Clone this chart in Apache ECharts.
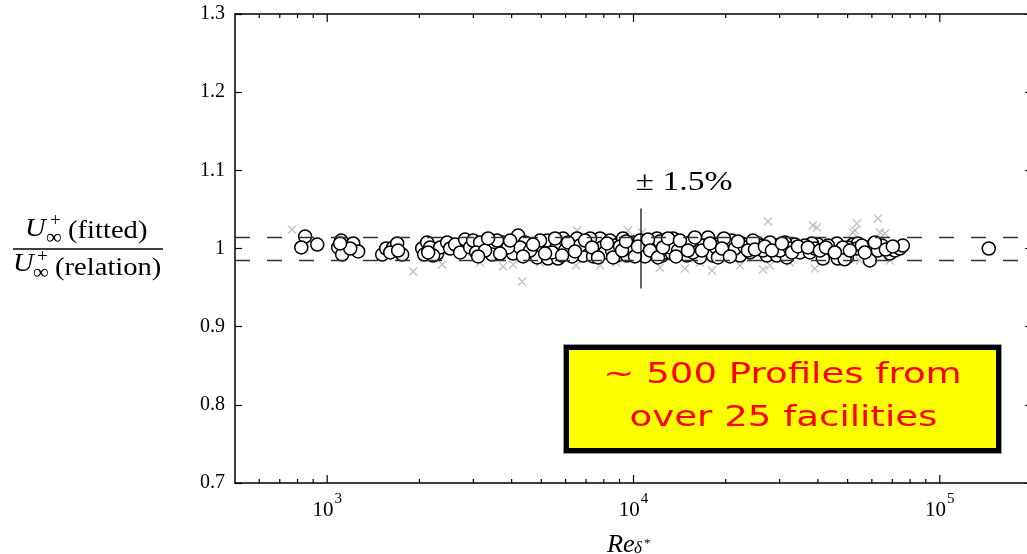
<!DOCTYPE html>
<html><head><meta charset="utf-8">
<script src="https://cdn.jsdelivr.net/npm/echarts@6/dist/echarts.min.js"></script>
<style>html,body{margin:0;padding:0;background:#fff}#c{width:1027px;height:554px}</style>
</head><body><div id="c"></div>
<script>
// ---- data ----
const profileRe = [847,823,928,1111,1086,1119,1216,1262,1189,1102,1512,1558,1642,1692,1757,1606,1704,
  2042,2120,2073,2168,2286,2338,2464,2520,2616,2716,2820,2929,2995,2217,2136,3156,3063,3480,3454,3752,
  4045,4200,4426,4264,4844,5067,5222,5262,5628,5671,5888,6206,6543,6844,7106,7487,7775,7893,8381,8704,
  8836,9242,9524,9963,10266,10740,11070,11490,11930,12390,12860,13460,12670,13360,14510,14950,16120,
  17510,16480,18170,19150,20340,20960,22590,22260,23990,25490,27270,28950,29390,31680,33650,34930,
  39990,41520,44760,46470,49730,52030,54020,25880,38220,46130,50100,53620,57790,59110,60460,64700,
  68690,71320,74060,75750,144500,48900,
  3277,3586,3895,4595,4954,5422,5977,6300,6690,7214,7378,8072,8508,9036,9741,10500,10900,11750,12200,
  13150,13970,15290,15640,16980,18590,19740,21440,23110,24550,26460,27890,30060,31210,32400,36260,
  37660,39100,43120,48260,55660,62790,66650,
  3110,3352,3668,3955,4360,4700,5143,5545,5845,6113,6442,6948,7322,7660,8195,8574,9174,9452,10110,10340,
  11150,11320,12020,12480,12960,13760,14180,15060,15870,16730,17770,18870,19450,20650,21930,23640,24920,
  26850,28310,30520,32890,34420,37100,40600,42480,45440,50860,56920,61370,70250];
const profileRatio = [1.0153,1.0013,1.0051,1.0102,1.0013,0.9923,1.0064,0.9962,1.0,1.0064,0.9923,1.0,1.0013,1.0064,0.9923,0.9949,0.9974,
  1.0,1.0077,0.9923,1.0013,0.9936,1.0013,1.0077,1.0,1.0051,0.9949,1.0115,1.0013,1.0102,0.9910,0.9949,1.0077,0.9949,1.0,0.9923,1.0077,
  0.9936,1.0166,1.0077,1.0013,0.9885,1.0013,1.0102,0.9872,1.0038,0.9872,1.0128,1.0,1.0128,0.9910,1.0038,0.9949,1.0128,1.0013,1.0102,1.0038,
  0.9910,1.0128,0.9910,1.0077,0.9949,1.0013,0.9936,1.0064,1.0128,0.9910,1.0038,1.0128,0.9949,0.9936,1.0038,0.9910,1.0013,
  1.0141,0.9885,0.9910,1.0064,0.9949,1.0102,1.0064,0.9910,0.9949,1.0064,0.9910,1.0038,0.9910,0.9885,1.0051,0.9949,
  1.0051,0.9872,1.0013,0.9872,0.9885,1.0051,1.0064,1.0038,1.0064,1.0064,1.0013,1.0,1.0013,0.9847,1.0038,1.0038,
  0.9936,0.9974,1.0,1.0038,1.0,0.9862,
  0.9974,1.0102,1.0013,0.9974,1.0102,0.9949,0.9974,0.9898,1.0038,1.0128,0.9898,0.9949,0.9974,1.0026,1.0,1.0102,0.9898,0.9974,1.009,
  1.0013,0.9974,1.0077,0.9949,1.0038,1.0013,1.0128,1.0,1.0013,1.0102,0.9974,1.0077,0.9974,1.0077,1.0,1.0038,
  0.9949,1.0,1.0038,1.0013,1.0038,0.9974,0.9987,
  0.9898,1.0128,0.9936,1.0102,0.9898,1.0051,0.9936,1.0128,0.9910,1.0077,0.9962,1.0102,1.0013,0.9885,1.0064,0.9885,0.9974,1.009,0.9898,1.0026,
  1.0115,0.9974,0.9885,1.0013,1.0128,0.9898,1.0102,0.9974,1.0141,0.9974,1.0064,0.9885,1.0,0.9898,1.009,0.9974,0.9987,
  1.0026,0.9974,1.0064,0.9949,1.0026,1.0013,0.9974,1.0013,0.9949,0.9974,0.9949,1.0077,1.0026];
const outlierRe = [768,1908,2372,3752,4045,4327,6543,6494,9594,10660,8770,12200,14720,18040,22260,26460,27470,
  27890,38510,39690,39100,53620,52030,52810,62790,63740,66190,68690,44420,54840,32400,16480,4954,3156,7775];
const outlierRatio = [1.0243,0.9706,0.9795,0.9770,0.9795,0.9578,1.0230,0.9783,1.0230,1.0205,0.9821,0.9757,0.9744,0.9719,0.9783,0.9731,1.0345,
  0.9783,1.0294,1.0269,0.9744,1.0320,1.0205,1.0230,1.0384,1.0205,1.0192,0.9847,0.9847,0.9847,0.9821,0.9821,0.9821,0.9821,0.9783];
const bandUpper = 1.015, bandLower = 0.985;
const markerRe = 10580, markerLow = 0.9488, markerHigh = 1.0512;
const xMin = 500, xMax = 200000, yMin = 0.7, yMax = 1.3;
const xMajorTicks = [1000, 10000, 100000];
const xMinorTicks = [600,700,800,900,2000,3000,4000,5000,6000,7000,8000,9000,20000,30000,40000,50000,60000,70000,80000,90000];
const yTickLabels = ['0.7','0.8','0.9','1','1.1','1.2','1.3'];

const SERIF = '"Liberation Serif", "DejaVu Serif", serif';
const chart = echarts.init(document.getElementById('c'), null, {renderer: 'canvas'});

const tickData = xMajorTicks.map(v => [v, 1, 1]).concat(xMinorTicks.map(v => [v, 1, 0]));
const axisLine = {show: true, lineStyle: {color: '#000', width: 1.5}};

function txt(text, x, y, font, opts) {
  return Object.assign({type: 'text', x: x, y: y, silent: true,
    style: Object.assign({text: text, x: 0, y: 0, font: font, fill: '#000', textAlign: 'left', textVerticalAlign: 'middle'}, (opts && opts.style) || {})},
    opts && opts.el || {});
}

chart.setOption({
  animation: false,
  backgroundColor: '#fff',
  grid: {left: 235, top: 14, width: 797, height: 469, outerBoundsMode: 'none'},
  xAxis: [{
    type: 'log', logBase: 10, min: xMin, max: xMax, position: 'bottom',
    axisLine: axisLine, axisTick: {show: false}, splitLine: {show: false}, minorTick: {show: false},
    axisLabel: {
      margin: 9, color: '#000',
      formatter: v => xMajorTicks.some(t => Math.abs(t - v) / t < 1e-6) ? '{b|10}{s|' + Math.round(Math.log10(v)) + '}' : '',
      rich: {
        b: {fontFamily: SERIF, fontSize: 21, color: '#000', lineHeight: 29, verticalAlign: 'bottom'},
        s: {fontFamily: SERIF, fontSize: 15, color: '#000', lineHeight: 15, verticalAlign: 'top', padding: [0, 0, 0, 1]}
      }
    }
  }, {
    type: 'log', logBase: 10, min: xMin, max: xMax, position: 'top',
    axisLine: axisLine, axisTick: {show: false}, axisLabel: {show: false}, splitLine: {show: false}
  }],
  yAxis: [{
    type: 'value', min: yMin, max: yMax, interval: 0.1, position: 'left',
    axisLine: axisLine, splitLine: {show: false},
    axisTick: {show: true, inside: true, length: 7, lineStyle: {color: '#000', width: 1.2}},
    axisLabel: {margin: 10, color: '#000', fontFamily: SERIF, fontSize: 20,
      formatter: v => yTickLabels[Math.round((v - yMin) * 10)]}
  }, {
    type: 'value', min: yMin, max: yMax, interval: 0.1, position: 'right',
    axisLine: axisLine, splitLine: {show: false}, axisLabel: {show: false},
    axisTick: {show: true, inside: true, length: 7, lineStyle: {color: '#000', width: 1.2}}
  }],
  series: [{
    name: 'outliers', type: 'scatter', z: 2, silent: true,
    data: outlierRe.map((v, i) => [v, outlierRatio[i]]),
    symbol: 'path://M0,0L10,10M10,0L0,10', symbolSize: 8,
    itemStyle: {color: 'none', borderColor: '#b4b4b4', borderWidth: 1.4},
    markLine: {
      silent: true, symbol: 'none', precision: 5, label: {show: false},
      lineStyle: {color: '#333', width: 1.4, type: [15, 17]},
      data: [{yAxis: bandUpper}, {yAxis: bandLower}]
    }
  }, {
    name: 'profiles', type: 'scatter', z: 3, silent: true,
    data: profileRe.map((v, i) => [v, profileRatio[i]]),
    symbol: 'circle', symbolSize: 13,
    itemStyle: {color: '#fff', borderColor: '#000', borderWidth: 1.5, opacity: 1}
  }, {
    name: 'marker', type: 'line', z: 6, silent: true, showSymbol: false, symbol: 'none',
    data: [[markerRe, markerLow], [markerRe, markerHigh]],
    lineStyle: {color: '#000', width: 1.2}
  }, {
    name: 'xticks', type: 'custom', z: 7, silent: true, clip: false,
    data: tickData, encode: {x: 0, y: 1},
    renderItem: (params, api) => {
      const v = api.value(0);
      const len = api.value(2) === 1 ? 8 : 4;
      const b = api.coord([v, yMin]);
      const t = api.coord([v, yMax]);
      const st = {stroke: '#000', lineWidth: 1.2};
      return {type: 'group', children: [
        {type: 'line', shape: {x1: b[0], y1: b[1], x2: b[0], y2: b[1] - len}, style: st},
        {type: 'line', shape: {x1: t[0], y1: t[1], x2: t[0], y2: t[1] + len}, style: st}
      ]};
    }
  }],
  graphic: [
    // y-axis title: fraction
    txt('U', 25, 229, 'italic 26px ' + SERIF, {el: {scaleX: 1.1}}),
    txt('+', 50, 221, '19px ' + SERIF),
    txt('\u221e', 46, 238, '22px ' + SERIF),
    txt('(fitted)', 68, 231, '26px ' + SERIF, {el: {scaleX: 1.1}}),
    {type: 'line', silent: true, shape: {x1: 13, y1: 249, x2: 163, y2: 249}, style: {stroke: '#000', lineWidth: 1.6}},
    txt('U', 13, 264, 'italic 26px ' + SERIF, {el: {scaleX: 1.1}}),
    txt('+', 37, 257, '19px ' + SERIF),
    txt('\u221e', 33, 273, '22px ' + SERIF),
    txt('(relation)', 55, 268, '26px ' + SERIF, {el: {scaleX: 1.1}}),
    // x-axis title
    txt('Re', 607, 545, 'italic 25px ' + SERIF, {el: {scaleX: 1.05}}),
    txt('\u03b4', 634, 549, 'italic 17px ' + SERIF),
    txt('*', 644, 544, '13px ' + SERIF),
    // +-1.5% label
    txt('\u00b1 1.5%', 684, 183, '28px ' + SERIF, {el: {scaleX: 1.2}, style: {textAlign: 'center'}}),
    // annotation box
    {type: 'rect', silent: true, z: 10, shape: {x: 563.5, y: 344.5, width: 438, height: 109}, style: {fill: 'none', stroke: '#999', lineWidth: 1}},
    {type: 'rect', silent: true, z: 10, shape: {x: 566.5, y: 347.5, width: 432, height: 103}, style: {fill: '#ffff00', stroke: '#000', lineWidth: 5}},
    Object.assign(txt('~ 500 Profiles from', 782.5, 375, '29px "DejaVu Sans", Verdana, sans-serif', {el: {scaleX: 1.28}, style: {textAlign: 'center', fill: '#ff0000'}}), {z: 11}),
    Object.assign(txt('over 25 facilities', 783.5, 418, '29px "DejaVu Sans", Verdana, sans-serif', {el: {scaleX: 1.28}, style: {textAlign: 'center', fill: '#ff0000'}}), {z: 11})
  ]
});
</script>
</body></html>
